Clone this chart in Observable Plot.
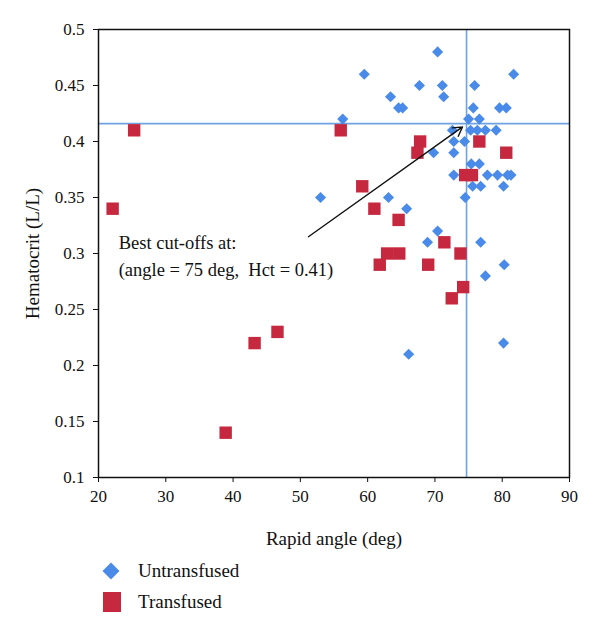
<!DOCTYPE html>
<html>
<head>
<meta charset="utf-8">
<script src="https://cdn.jsdelivr.net/npm/d3@7"></script>
<script src="https://cdn.jsdelivr.net/npm/@observablehq/plot@0.6"></script>
<style>
  body { margin: 0; background: #fff; font-family: "Liberation Serif", "DejaVu Serif", serif; }
  #chart svg { display: block; }
  .legend { position: relative; height: 78px; font-size: 19px; color: #111; }
  .legend .row { position: absolute; left: 0; height: 30px; width: 400px; }
  .legend .row svg { position: absolute; left: 100px; top: 0; }
  .legend .row span { position: absolute; left: 138px; top: 3px; white-space: nowrap; line-height: 24px; }
</style>
</head>
<body>
<div id="chart"></div>
<div class="legend" id="legend"></div>
<script>
// Untransfused (blue diamonds): rapid angle (deg), hematocrit (L/L)
const untransfusedAngle = [70.4, 59.5, 81.7, 67.7, 71.1, 75.9, 63.4, 71.3, 64.6, 65.2, 75.7, 79.6, 80.6,
  56.3, 75.0, 76.6, 72.6, 75.3, 76.3, 77.5, 79.1, 72.8, 74.4, 69.8, 72.8, 75.4, 76.6,
  72.8, 77.8, 79.3, 80.8, 81.3, 75.6, 76.8, 80.2, 53.0, 63.1, 74.5, 65.8, 70.4, 68.9, 76.8,
  80.3, 77.5, 80.2, 66.1];
const untransfusedHct = [0.48, 0.46, 0.46, 0.45, 0.45, 0.45, 0.44, 0.44, 0.43, 0.43, 0.43, 0.43, 0.43,
  0.42, 0.42, 0.42, 0.41, 0.41, 0.41, 0.41, 0.41, 0.40, 0.40, 0.39, 0.39, 0.38, 0.38,
  0.37, 0.37, 0.37, 0.37, 0.37, 0.36, 0.36, 0.36, 0.35, 0.35, 0.35, 0.34, 0.32, 0.31, 0.31,
  0.29, 0.28, 0.22, 0.21];
// Transfused (red squares)
const transfusedAngle = [22.1, 25.3, 38.9, 43.2, 46.6, 56.0, 59.2, 61.0, 61.8, 62.9, 64.7, 64.6,
  67.8, 67.4, 69.0, 71.4, 72.5, 73.8, 74.2, 74.5, 75.5, 76.6, 80.6];
const transfusedHct = [0.34, 0.41, 0.14, 0.22, 0.23, 0.41, 0.36, 0.34, 0.29, 0.30, 0.30, 0.33,
  0.40, 0.39, 0.29, 0.31, 0.26, 0.30, 0.27, 0.37, 0.37, 0.40, 0.39];
// Cut-offs
const cutoffAngle = [74.7];
const cutoffHct = [0.416];
// Axis ticks
const xTicks = [20, 30, 40, 50, 60, 70, 80, 90];
const yTicks = [0.1, 0.15, 0.2, 0.25, 0.3, 0.35, 0.4, 0.45, 0.5];
// Annotation
const annotationLines = ["Best cut-offs at:", "(angle = 75 deg,  Hct = 0.41)"];
const annotationAngle = [23.0, 23.0];
const annotationHct = [0.309, 0.285];
const arrowFrom = [51.2, 0.315];
const arrowTo = [74.1, 0.413];

const untransfused = untransfusedAngle.map((a, i) => ({angle: a, hct: untransfusedHct[i]}));
const transfused = transfusedAngle.map((a, i) => ({angle: a, hct: transfusedHct[i]}));
const annotations = annotationLines.map((t, i) => ({text: t, angle: annotationAngle[i], hct: annotationHct[i]}));

const blue = "#4A8BEA";
const red = "#C6293F";
const refColor = "#6FA2E2";

const chart = Plot.plot({
  width: 600,
  height: 555,
  marginTop: 29,
  marginRight: 31,
  marginBottom: 78,
  marginLeft: 98,
  style: {fontFamily: "'Liberation Serif', 'DejaVu Serif', serif", fontSize: "17px", color: "#111", background: "#fff"},
  x: {domain: [20, 90]},
  y: {domain: [0.1, 0.5]},
  marks: [
    Plot.ruleX(cutoffAngle, {stroke: refColor, strokeWidth: 1.6}),
    Plot.ruleY(cutoffHct, {stroke: refColor, strokeWidth: 1.6}),
    Plot.dot(untransfused, {x: "angle", y: "hct", symbol: "diamond2", r: 5, fill: blue, stroke: "none"}),
    Plot.dot(transfused, {x: "angle", y: "hct", symbol: "square", r: 7, fill: red, stroke: "none"}),
    Plot.arrow([{x1: arrowFrom[0], y1: arrowFrom[1], x2: arrowTo[0], y2: arrowTo[1]}],
      {x1: "x1", y1: "y1", x2: "x2", y2: "y2", stroke: "#111", strokeWidth: 1.4, headLength: 11}),
    Plot.text(annotations, {x: "angle", y: "hct", text: "text", textAnchor: "start", fontSize: 18.5, fill: "#111"}),
    Plot.frame({stroke: "#111", strokeWidth: 1.5}),
    Plot.axisX({ticks: xTicks, tickSize: 5, tickPadding: 7, tickFormat: d => String(d), fontSize: 17}),
    Plot.axisX({ticks: [], label: "Rapid angle (deg)", labelAnchor: "center", labelArrow: "none", labelOffset: 67, fontSize: 19}),
    Plot.axisY({ticks: yTicks, tickSize: 5, tickPadding: 9, tickFormat: d => String(+d.toFixed(2)), fontSize: 17}),
    Plot.axisY({ticks: [], label: "Hematocrit (L/L)", labelAnchor: "center", labelArrow: "none", labelOffset: 73, fontSize: 19})
  ]
});
document.getElementById("chart").appendChild(chart);

// Legend
const legendItems = ["Untransfused", "Transfused"];
const legendColors = [blue, red];
const legendSymbols = ["diamond", "square"];
const legend = document.getElementById("legend");
legendItems.forEach((name, i) => {
  const row = document.createElement("div");
  row.className = "row";
  row.style.top = (1 + i * 31) + "px";
  const icon = legendSymbols[i] === "diamond"
    ? `<svg width="22" height="30" viewBox="0 0 22 30"><path d="M11,6.5 L19.5,15 L11,23.5 L2.5,15 Z" fill="${legendColors[i]}"/></svg>`
    : `<svg width="22" height="30" viewBox="0 0 22 30"><rect x="3" y="5" width="18" height="20" fill="${legendColors[i]}"/></svg>`;
  row.innerHTML = icon + `<span>${name}</span>`;
  legend.appendChild(row);
});
</script>
</body>
</html>
